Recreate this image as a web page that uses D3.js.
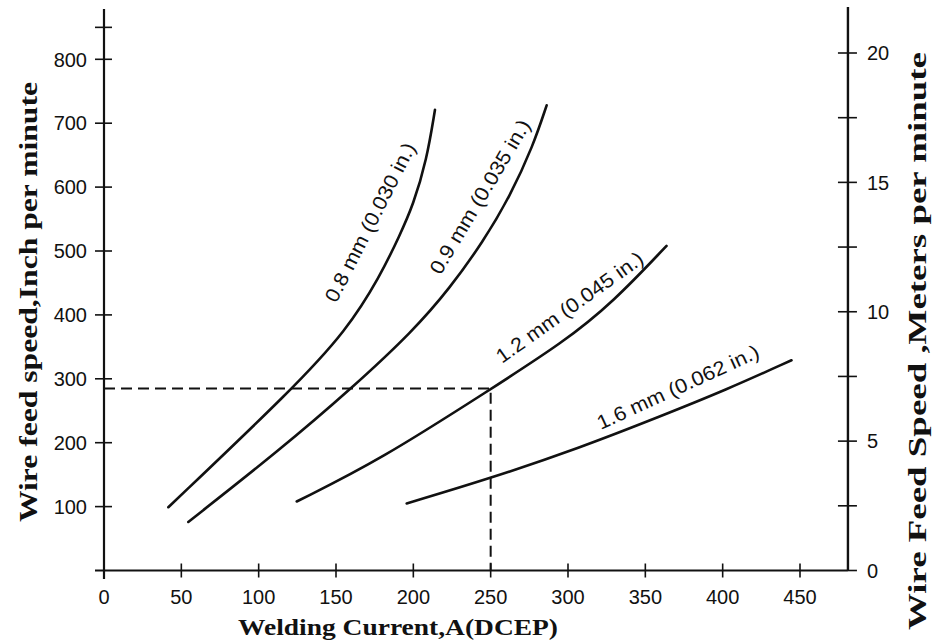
<!DOCTYPE html>
<html>
<head>
<meta charset="utf-8">
<script src="https://cdn.jsdelivr.net/npm/d3@7"></script>
<style>
  body { margin: 0; background: #fff; }
  text { fill: #111; }
</style>
</head>
<body>
<svg id="chart" width="932" height="643"></svg>
<script>
// data: [current A, wire feed in/min]
const wire08 = [[41.6, 99], [122.4, 285], [156.9, 376], [178.4, 460], [191.3, 525], [199.9, 572], [208.6, 642], [214, 721]];
const wire09 = [[54.5, 76], [113.8, 189], [160.1, 285], [199.9, 375], [223.7, 442], [245.2, 515], [262.4, 585], [277.5, 665], [286.2, 728]];
const wire12 = [[124.6, 108], [178.4, 173], [249.5, 283], [296.9, 357], [329.2, 420], [363.7, 508]];
const wire16 = [[195.7, 105], [249.5, 144], [307.7, 192], [359.4, 241], [402.5, 283], [444.5, 329]];

const curveLabels = ["0.8 mm (0.030 in.)", "0.9 mm (0.035 in.)", "1.2 mm (0.045 in.)", "1.6 mm (0.062 in.)"];
// where each label sits (A, in/min) and its slant
const labelAt = [[172, 545, -63], [243, 585, -59], [301, 412, -35.5], [371, 287, -24.6]];

const xTicks = [0, 50, 100, 150, 200, 250, 300, 350, 400, 450];
const yTicks = [100, 200, 300, 400, 500, 600, 700, 800, 850];
const yTickLabels = [100, 200, 300, 400, 500, 600, 700, 800];
const mTicks = [0, 2.5, 5, 7.5, 10, 12.5, 15, 17.5, 20, 22.5];
const mTickLabels = [0, 5, 10, 15, 20];

// the dashed read-off: 250 A -> about 285 in/min
const readOff = { current: 250, speed: 285 };

const svg = d3.select("#chart");

const x = d3.scaleLinear().domain([0, 450]).range([104, 800]);
const y = d3.scaleLinear().domain([0, 800]).range([570.5, 59.3]);
const yM = d3.scaleLinear().domain([0, 20]).range([570.5, 53]);

const xRight = x(481);

// axes lines
svg.append("line").attr("x1", 95).attr("x2", xRight).attr("y1", y(0)).attr("y2", y(0))
    .attr("stroke", "#111").attr("stroke-width", 2.2);
svg.append("line").attr("x1", x(0)).attr("x2", x(0)).attr("y1", 9).attr("y2", 579)
    .attr("stroke", "#111").attr("stroke-width", 2.2);
svg.append("line").attr("x1", xRight).attr("x2", xRight).attr("y1", 7).attr("y2", y(0))
    .attr("stroke", "#111").attr("stroke-width", 2.4);

const tickFont = "'Liberation Sans', Arial, sans-serif";

// x ticks (crossing the axis)
svg.selectAll(".xtick").data(xTicks.slice(1)).enter().append("line")
    .attr("x1", d => x(d)).attr("x2", d => x(d))
    .attr("y1", y(0) - 7).attr("y2", y(0) + 7)
    .attr("stroke", "#111").attr("stroke-width", 1.6);
svg.selectAll(".xlab").data(xTicks).enter().append("text")
    .attr("x", d => x(d)).attr("y", 604)
    .attr("text-anchor", "middle")
    .style("font-family", tickFont).style("font-size", "20px")
    .text(d => d);

// left ticks
svg.selectAll(".ytick").data(yTicks).enter().append("line")
    .attr("x1", x(0) - 9).attr("x2", x(0) + 8)
    .attr("y1", d => y(d)).attr("y2", d => y(d))
    .attr("stroke", "#111").attr("stroke-width", 1.6);
svg.selectAll(".ylab").data(yTickLabels).enter().append("text")
    .attr("x", 87).attr("y", d => y(d)).attr("dy", "0.36em")
    .attr("text-anchor", "end")
    .style("font-family", tickFont).style("font-size", "20px")
    .text(d => d);

// right ticks (m/min)
svg.selectAll(".mtick").data(mTicks.slice(1)).enter().append("line")
    .attr("x1", xRight - 10).attr("x2", xRight + 9)
    .attr("y1", d => yM(d)).attr("y2", d => yM(d))
    .attr("stroke", "#111").attr("stroke-width", 1.6);
svg.append("line").attr("x1", xRight).attr("x2", xRight + 9)
    .attr("y1", yM(0)).attr("y2", yM(0))
    .attr("stroke", "#111").attr("stroke-width", 1.6);
svg.selectAll(".mlab").data(mTickLabels).enter().append("text")
    .attr("x", 867).attr("y", d => yM(d)).attr("dy", "0.36em")
    .attr("text-anchor", "start")
    .style("font-family", tickFont).style("font-size", "20px")
    .text(d => d);

// dashed read-off lines
svg.append("path")
    .attr("d", `M${x(0)},${y(readOff.speed)} H${x(readOff.current)} V${y(0)}`)
    .attr("fill", "none").attr("stroke", "#111").attr("stroke-width", 2)
    .attr("stroke-dasharray", "11,6");

// curves
const line = d3.line().x(d => x(d[0])).y(d => y(d[1])).curve(d3.curveBasis);
svg.selectAll(".wire").data([wire08, wire09, wire12, wire16]).enter().append("path")
    .attr("d", line)
    .attr("fill", "none").attr("stroke", "#111").attr("stroke-width", 2.6)
    .attr("stroke-linecap", "round");

// curve labels
svg.selectAll(".clab").data(curveLabels).enter().append("text")
    .attr("transform", (d, i) => `translate(${x(labelAt[i][0])},${y(labelAt[i][1])}) rotate(${labelAt[i][2]})`)
    .attr("text-anchor", "middle").attr("dy", "0.35em")
    .style("font-family", tickFont).style("font-size", "20px")
    .attr("textLength", 176).attr("lengthAdjust", "spacingAndGlyphs")
    .text(d => d);

// axis titles
const titleFont = "'Liberation Serif', 'Times New Roman', serif";
svg.append("text")
    .attr("transform", "translate(28,302) rotate(-90)")
    .attr("text-anchor", "middle").attr("dy", "0.35em")
    .style("font-family", titleFont).style("font-weight", "bold").style("font-size", "26px")
    .attr("textLength", 440).attr("lengthAdjust", "spacingAndGlyphs")
    .text("Wire feed speed,Inch per minute");
svg.append("text")
    .attr("transform", "translate(917,341) rotate(-90)")
    .attr("text-anchor", "middle").attr("dy", "0.35em")
    .style("font-family", titleFont).style("font-weight", "bold").style("font-size", "25px")
    .attr("textLength", 578).attr("lengthAdjust", "spacingAndGlyphs")
    .text("Wire Feed Speed ,Meters per minute");
svg.append("text")
    .attr("x", 398).attr("y", 635)
    .attr("text-anchor", "middle")
    .style("font-family", titleFont).style("font-weight", "bold").style("font-size", "24px")
    .attr("textLength", 320).attr("lengthAdjust", "spacingAndGlyphs")
    .text("Welding Current,A(DCEP)");
</script>
</body>
</html>
